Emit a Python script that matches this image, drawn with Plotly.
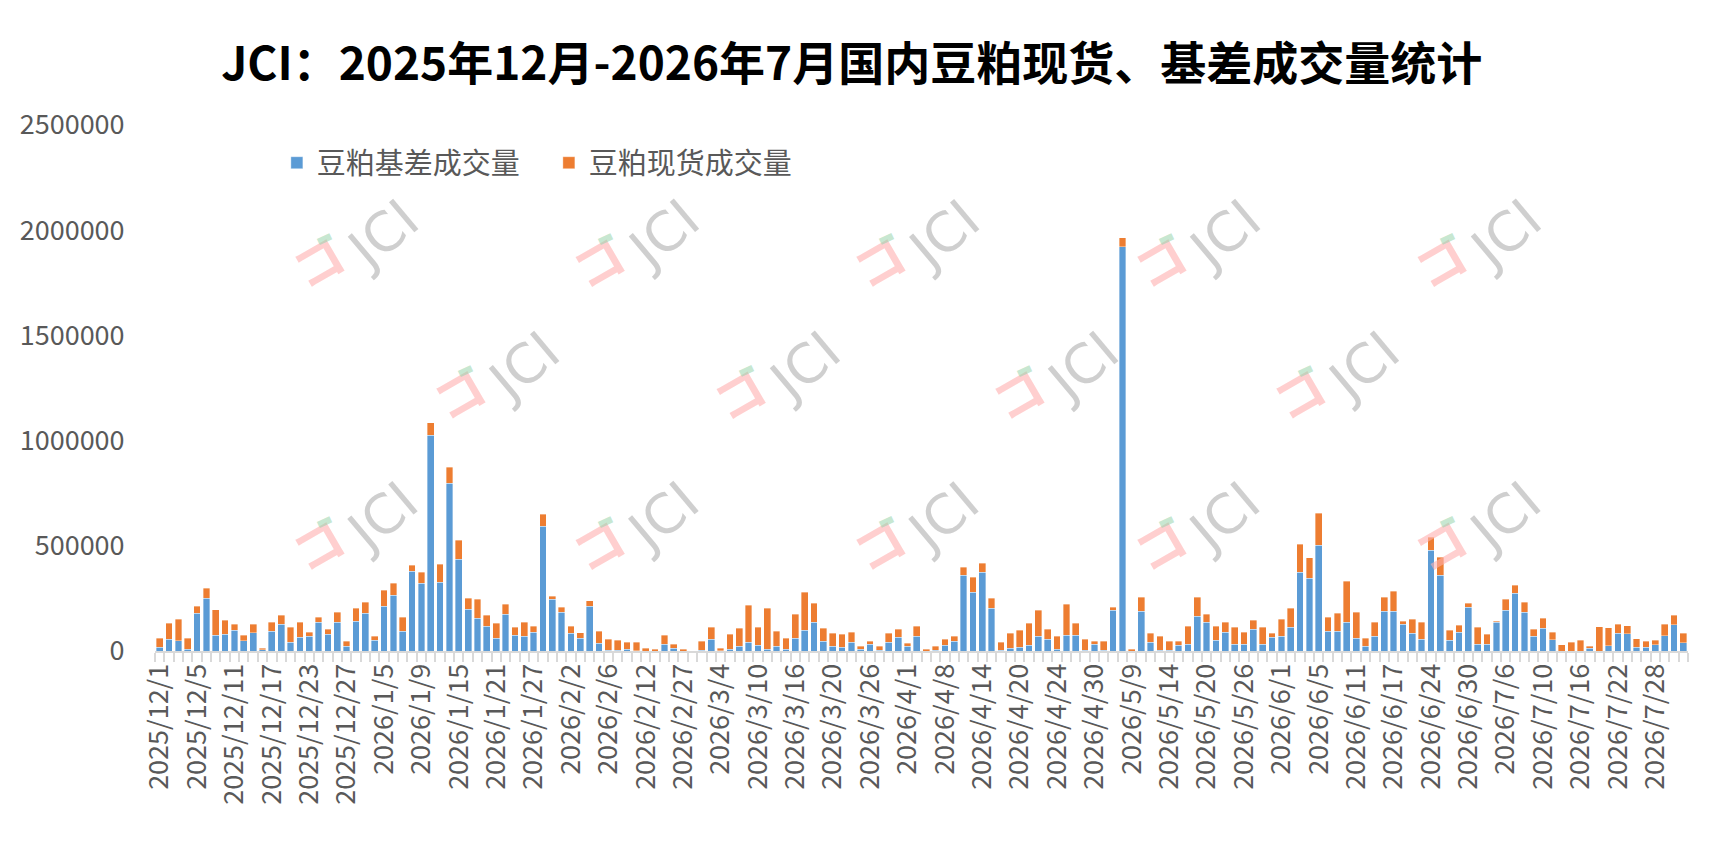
import plotly.graph_objects as go

# trading days on the category axis
dates = [
    "2025/12/1", "2025/12/2", "2025/12/3", "2025/12/4", "2025/12/5", "2025/12/8",
    "2025/12/9", "2025/12/10", "2025/12/11", "2025/12/12", "2025/12/15", "2025/12/16",
    "2025/12/17", "2025/12/18", "2025/12/19", "2025/12/22", "2025/12/23", "2025/12/24",
    "2025/12/25", "2025/12/26", "2025/12/27", "2025/12/29", "2025/12/30", "2025/12/31",
    "2026/1/5", "2026/1/6", "2026/1/7", "2026/1/8", "2026/1/9", "2026/1/12",
    "2026/1/13", "2026/1/14", "2026/1/15", "2026/1/16", "2026/1/19", "2026/1/20",
    "2026/1/21", "2026/1/22", "2026/1/23", "2026/1/26", "2026/1/27", "2026/1/28",
    "2026/1/29", "2026/1/30", "2026/2/2", "2026/2/3", "2026/2/4", "2026/2/5",
    "2026/2/6", "2026/2/9", "2026/2/10", "2026/2/11", "2026/2/12", "2026/2/13",
    "2026/2/14", "2026/2/26", "2026/2/27", "2026/2/28", "2026/3/2", "2026/3/3",
    "2026/3/4", "2026/3/5", "2026/3/6", "2026/3/9", "2026/3/10", "2026/3/11",
    "2026/3/12", "2026/3/13", "2026/3/16", "2026/3/17", "2026/3/18", "2026/3/19",
    "2026/3/20", "2026/3/23", "2026/3/24", "2026/3/25", "2026/3/26", "2026/3/27",
    "2026/3/30", "2026/3/31", "2026/4/1", "2026/4/2", "2026/4/3", "2026/4/7",
    "2026/4/8", "2026/4/9", "2026/4/10", "2026/4/13", "2026/4/14", "2026/4/15",
    "2026/4/16", "2026/4/17", "2026/4/20", "2026/4/21", "2026/4/22", "2026/4/23",
    "2026/4/24", "2026/4/27", "2026/4/28", "2026/4/29", "2026/4/30", "2026/5/6",
    "2026/5/7", "2026/5/8", "2026/5/9", "2026/5/11", "2026/5/12", "2026/5/13",
    "2026/5/14", "2026/5/15", "2026/5/18", "2026/5/19", "2026/5/20", "2026/5/21",
    "2026/5/22", "2026/5/25", "2026/5/26", "2026/5/27", "2026/5/28", "2026/5/29",
    "2026/6/1", "2026/6/2", "2026/6/3", "2026/6/4", "2026/6/5", "2026/6/8",
    "2026/6/9", "2026/6/10", "2026/6/11", "2026/6/12", "2026/6/15", "2026/6/16",
    "2026/6/17", "2026/6/18", "2026/6/22", "2026/6/23", "2026/6/24", "2026/6/25",
    "2026/6/26", "2026/6/29", "2026/6/30", "2026/7/1", "2026/7/2", "2026/7/3",
    "2026/7/6", "2026/7/7", "2026/7/8", "2026/7/9", "2026/7/10", "2026/7/13",
    "2026/7/14", "2026/7/15", "2026/7/16", "2026/7/17", "2026/7/20", "2026/7/21",
    "2026/7/22", "2026/7/23", "2026/7/24", "2026/7/27", "2026/7/28", "2026/7/29",
    "2026/7/30", "2026/7/31",
]

# 豆粕基差成交量 (blue)
basis_volume = [
    17000, 55000, 49000, 8000, 179000, 250000, 74000, 79000, 98000, 49000,
    87000, 5000, 93000, 127000, 41000, 65000, 70000, 136000, 79000, 136000,
    22000, 141000, 179000, 51000, 212000, 265000, 93000, 379000, 322000, 1025000,
    326000, 797000, 436000, 198000, 155000, 117000, 60000, 174000, 74000, 70000,
    89000, 592000, 246000, 184000, 84000, 60000, 212000, 36000, 3000, 3000,
    8000, 2000, 0, 0, 32000, 13000, 0, 0, 3000, 55000,
    2000, 8000, 22000, 41000, 27000, 8000, 22000, 8000, 60000, 98000,
    136000, 46000, 22000, 17000, 41000, 8000, 32000, 3000, 41000, 65000,
    22000, 70000, 0, 3000, 27000, 46000, 360000, 279000, 374000, 203000,
    3000, 13000, 17000, 27000, 70000, 55000, 8000, 74000, 74000, 3000,
    32000, 3000, 193000, 1922000, 0, 188000, 41000, 3000, 3000, 27000,
    32000, 165000, 136000, 51000, 89000, 32000, 32000, 103000, 32000, 65000,
    70000, 112000, 374000, 345000, 502000, 93000, 93000, 136000, 60000, 22000,
    70000, 188000, 188000, 127000, 84000, 55000, 478000, 360000, 51000, 89000,
    208000, 32000, 32000, 136000, 193000, 274000, 184000, 70000, 108000, 54000,
    0, 0, 0, 13000, 0, 25000, 84000, 82000, 17000, 17000,
    30000, 73000, 125000, 40000,
]

# 豆粕现货成交量 (orange)
spot_volume = [
    43000, 76000, 101000, 52000, 33000, 48000, 121000, 68000, 29000, 25000,
    40000, 9000, 43000, 42000, 71000, 71000, 19000, 24000, 24000, 48000,
    24000, 62000, 52000, 19000, 76000, 57000, 67000, 28000, 52000, 60000,
    87000, 76000, 90000, 52000, 91000, 52000, 71000, 48000, 38000, 66000,
    28000, 57000, 15000, 24000, 33000, 26000, 26000, 57000, 52000, 48000,
    33000, 39000, 13000, 8000, 42000, 19000, 8000, 0, 43000, 57000,
    11000, 71000, 86000, 176000, 85000, 195000, 71000, 52000, 114000, 181000,
    90000, 62000, 62000, 62000, 48000, 14000, 14000, 19000, 43000, 38000,
    14000, 47000, 8000, 19000, 28000, 24000, 38000, 71000, 43000, 47000,
    38000, 71000, 81000, 104000, 123000, 48000, 62000, 148000, 57000, 52000,
    14000, 43000, 16000, 41000, 8000, 67000, 43000, 67000, 43000, 19000,
    85000, 90000, 38000, 66000, 47000, 80000, 57000, 43000, 80000, 19000,
    80000, 91000, 133000, 99000, 152000, 67000, 86000, 195000, 124000, 38000,
    66000, 67000, 96000, 14000, 66000, 81000, 62000, 85000, 47000, 33000,
    18000, 80000, 47000, 5000, 53000, 38000, 47000, 33000, 47000, 35000,
    30000, 41000, 51000, 9000, 116000, 86000, 43000, 38000, 42000, 29000,
    21000, 54000, 45000, 44000,
]

# every 4th trading day gets a label
tick_labels = dates[::4]

y_ticks = [0, 500000, 1000000, 1500000, 2000000, 2500000]

FONT = "Noto Sans CJK SC, Microsoft YaHei, sans-serif"
GREY = "#595959"

# plot area in page pixels (left, right, top, bottom), used to place the watermarks
PL, PR, PT, PB = 153, 1688, 125, 651

# JCI watermark logos, centre of the pink hook in page pixels
wm_pos = [
    (315, 260), (596, 260), (877, 260), (1158, 260), (1439, 260),
    (456, 392), (737, 392), (1016, 392), (1297, 392),
    (315, 543), (596, 543), (877, 543), (1158, 543), (1439, 543),
]


def to_paper(px_, py_):
    return (px_ - PL) / (PR - PL), (PB - py_) / (PB - PT)


fig = go.Figure()
fig.add_trace(go.Bar(
    x=dates, y=basis_volume, name="豆粕基差成交量",
    marker=dict(color="#5b9bd5", line=dict(color="rgba(255,255,255,0.6)", width=0.6)),
))
fig.add_trace(go.Bar(
    x=dates, y=spot_volume, name="豆粕现货成交量",
    marker=dict(color="#ed7d31", line=dict(color="rgba(255,255,255,0.6)", width=0.6)),
))

annotations = []
for wx, wy in wm_pos:
    # grey JCI lettering
    ax_, ay_ = to_paper(wx + 66, wy - 26)
    annotations.append(dict(
        x=ax_, y=ay_, xref="paper", yref="paper", xanchor="center", yanchor="middle",
        text="JCI", showarrow=False, textangle=-40,
        font=dict(family="DejaVu Sans, sans-serif", size=54,
                  color="rgba(175,175,175,0.6)"),
    ))
    # pink hook
    ax_, ay_ = to_paper(wx, wy)
    annotations.append(dict(
        x=ax_, y=ay_, xref="paper", yref="paper", xanchor="center", yanchor="middle",
        text="<b>コ</b>", showarrow=False, textangle=-30,
        font=dict(family="Noto Sans CJK JP, sans-serif", size=50,
                  color="rgba(255,175,175,0.6)"),
    ))
    # small green leaf
    ax_, ay_ = to_paper(wx + 7, wy - 23)
    annotations.append(dict(
        x=ax_, y=ay_, xref="paper", yref="paper", xanchor="center", yanchor="middle",
        text="▬", showarrow=False, textangle=-25,
        font=dict(family="DejaVu Sans, sans-serif", size=18,
                  color="rgba(150,210,170,0.55)"),
    ))

fig.update_layout(
    width=1701,
    height=844,
    barmode="stack",
    bargap=0.28,
    plot_bgcolor="white",
    paper_bgcolor="white",
    font=dict(family=FONT, color=GREY),
    margin=dict(l=PL - 8, r=1717 - PR - 8, t=PT - 8, b=860 - PB - 8),
    title=dict(
        text="<b>JCI：2025年12月-2026年7月国内豆粕现货、基差成交量统计</b>",
        x=0.496, xanchor="center", y=0.9336, yanchor="middle",
        font=dict(family=FONT, size=46, color="black"),
    ),
    legend=dict(
        orientation="h", x=0.0795, xanchor="left", y=0.928, yanchor="middle",
        font=dict(family=FONT, size=29, color=GREY),
        traceorder="normal", itemwidth=30, entrywidth=227,
        bgcolor="rgba(0,0,0,0)",
    ),
    annotations=annotations,
    xaxis=dict(
        type="category",
        categoryorder="array", categoryarray=dates,
        tickmode="array", tickvals=dates,
        ticktext=[d if d in tick_labels else "" for d in dates],
        tickangle=-90,
        tickson="boundaries",
        ticks="outside", ticklen=9, tickwidth=2, tickcolor="#d9d9d9",
        showline=True, linecolor="#d9d9d9", linewidth=2,
        showgrid=False, zeroline=False,
        tickfont=dict(family=FONT, size=27, color=GREY),
        range=[-0.5, len(dates) - 0.5],
    ),
    yaxis=dict(
        range=[0, 2500000],
        tickmode="array", tickvals=y_ticks,
        ticktext=[str(v) for v in y_ticks],
        showgrid=False, zeroline=False, showline=False,
        ticks="outside", ticklen=24, tickcolor="rgba(0,0,0,0)",
        tickfont=dict(family=FONT, size=27, color=GREY),
    ),
)

fig.write_html("out.html")
